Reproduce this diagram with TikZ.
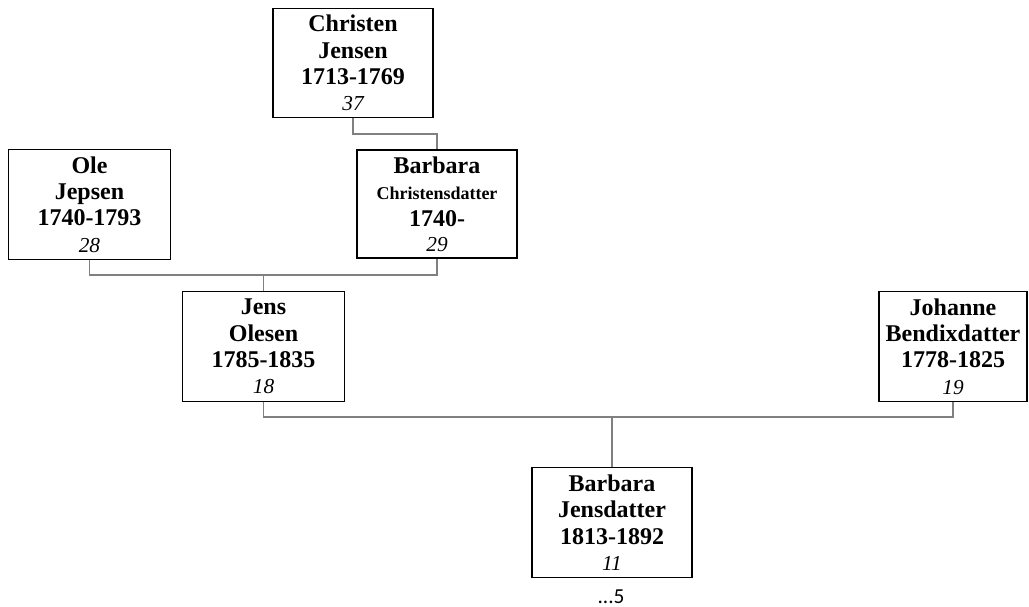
\documentclass[tikz,border=0pt]{standalone}
\usepackage{fontspec}
\setmainfont{Liberation Serif}
\newfontfamily\carlitofont{Carlito}
\tikzset{
  x=0.75pt, y=-0.75pt,
  person/.style={draw=black, line width=0.9pt, fill=white, inner sep=0pt,
    minimum width=120pt, minimum height=82pt, align=center,
    font=\fontsize{18}{19.8}\selectfont\bfseries},
  link/.style={draw=black!50, line width=0.8pt},
  moretxt/.style={font=\carlitofont\upshape\mdseries\fontsize{16}{18}\selectfont, inner sep=0pt, anchor=base},
}
\newcommand\agetxt[1]{{\fontsize{16}{18}\selectfont\mdseries\itshape #1}}
\begin{document}
\begin{tikzpicture}
\useasboundingbox (0,0) rectangle (1029,607);
\node[person] (chr) at (353,63) {Christen\\Jensen\\1713-1769\\\agetxt{37}};
\node[person, minimum width=121pt] (ole) at (89.5,204.5) {Ole\\Jepsen\\1740-1793\\\agetxt{28}};
\node[person, minimum height=81pt] (bar) at (437,204) {Barbara\\{\fontsize{13.5}{19.8}\selectfont Christensdatter}\\[0.8pt]1740-\\[-1.5pt]\agetxt{29}};
\node[person, minimum width=121pt] (jens) at (263.5,346.5) {Jens\\Olesen\\1785-1835\\\agetxt{18}};
\node[person, minimum width=111pt] (joh) at (953,346.5) {Johanne\\Bendixdatter\\1778-1825\\\agetxt{19}};
\node[person] (bj) at (612,522.5) {Barbara\\Jensdatter\\1813-1892\\\agetxt{11}};
\node[moretxt] (more) at (611,603) {\upshape ...5};
\coordinate (m1) at (353,134);
\coordinate (m2) at (263.5,275);
\coordinate (m3) at (263.5,417);
\draw[link] (chr.south) -- (m1) -| (bar.north);
\draw[link] (ole.south) |- (m2) -| (bar.south);
\draw[link] (m2) -- (jens.north);
\draw[link] (jens.south) -- (m3) -| (joh.south);
\draw[link] (bj.north) -- (bj.north |- m3);
\end{tikzpicture}
\end{document}
